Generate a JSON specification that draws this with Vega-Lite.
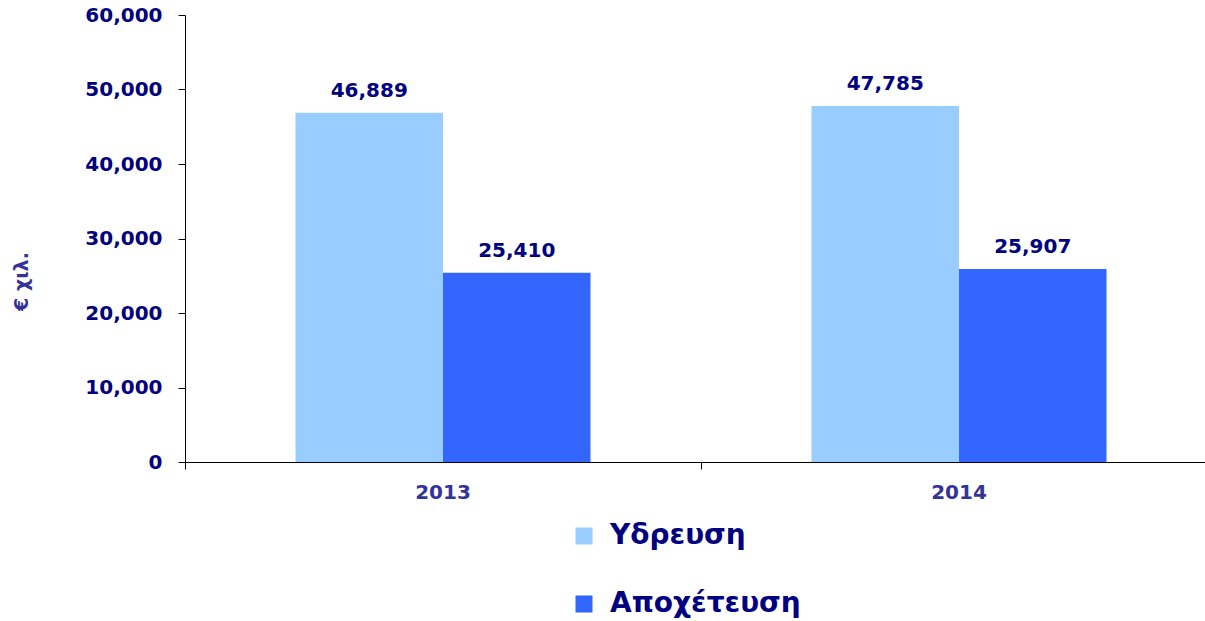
{
  "$schema": "https://vega.github.io/schema/vega-lite/v6.json",
  "autosize": "none",
  "width": 1032,
  "height": 447,
  "padding": {"left": 185, "top": 15, "right": -12, "bottom": 159},
  "background": "white",
  "config": {
    "view": {"stroke": null},
    "font": "DejaVu Sans"
  },
  "data": {
    "values": [
      {"year": "2013", "series": "Υδρευση", "value": 46889},
      {"year": "2013", "series": "Αποχέτευση", "value": 25410},
      {"year": "2014", "series": "Υδρευση", "value": 47785},
      {"year": "2014", "series": "Αποχέτευση", "value": 25907}
    ]
  },
  "encoding": {
    "x": {
      "field": "year", "type": "nominal",
      "scale": {"paddingInner": 0, "paddingOuter": 0},
      "axis": {
        "title": null, "labelAngle": 0, "bandPosition": 0,
        "domainColor": "#000000", "tickColor": "#000000", "tickSize": 7,
        "labelFontSize": 20, "labelFontWeight": "bold", "labelColor": "#333399",
        "labelPadding": 13, "labelFont": "DejaVu Sans", "labelBound": false
      }
    },
    "xOffset": {
      "field": "series", "type": "nominal",
      "sort": ["Υδρευση", "Αποχέτευση"],
      "scale": {"paddingInner": 0, "paddingOuter": 0.749}
    },
    "y": {
      "field": "value", "type": "quantitative",
      "scale": {"domain": [0, 60000], "nice": false},
      "axis": {
        "title": "€ χιλ.", "titleFontSize": 19, "titleFontWeight": "bold", "titleColor": "#333399",
        "titleX": -164, "titleY": 266, "titleAngle": -90, "titleBaseline": "middle", "titleAlign": "center",
        "values": [0, 10000, 20000, 30000, 40000, 50000, 60000],
        "format": ",d", "grid": false,
        "domainColor": "#000000", "tickColor": "#000000", "tickSize": 7,
        "labelFontSize": 20, "labelFontWeight": "bold", "labelColor": "#000080",
        "labelPadding": 16, "labelFont": "DejaVu Sans"
      }
    }
  },
  "layer": [
    {
      "mark": {"type": "bar"},
      "encoding": {
        "color": {
          "field": "series", "type": "nominal",
          "sort": ["Υδρευση", "Αποχέτευση"],
          "scale": {"domain": ["Υδρευση", "Αποχέτευση"], "range": ["#99CCFF", "#3366FF"]},
          "legend": {
            "title": null, "orient": "none", "direction": "vertical",
            "legendX": 385, "legendY": 507,
            "symbolType": "square", "symbolSize": 289, "symbolStrokeWidth": 0,
            "labelFontSize": 28, "labelFontWeight": "bold", "labelColor": "#000080",
            "labelFont": "DejaVu Sans", "labelOffset": 12, "rowPadding": 40, "labelLimit": 400
          }
        }
      }
    },
    {
      "mark": {"type": "text", "baseline": "alphabetic", "dy": -16, "fontSize": 20, "fontWeight": "bold", "color": "#000080", "font": "DejaVu Sans"},
      "encoding": {
        "text": {"field": "value", "type": "quantitative", "format": ",d"}
      }
    }
  ]
}
